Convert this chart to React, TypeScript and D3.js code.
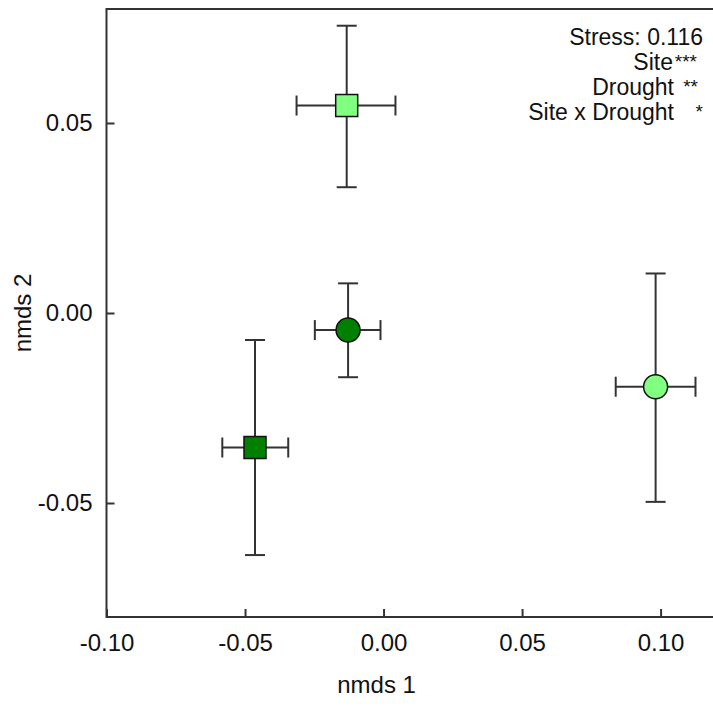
import React, { useRef, useEffect } from 'react';
import * as d3 from 'd3';

// group means and error-bar extents (nmds 1 / nmds 2)
const groups = ['dark square', 'dark circle', 'light square', 'light circle'];
const shapes = ['square', 'circle', 'square', 'circle'];
const fills = ['#008000', '#008000', '#80ff80', '#80ff80'];
const xMean = [-0.0464, -0.0128, -0.0133, 0.0982];
const xLow = [-0.0582, -0.0248, -0.0314, 0.0838];
const xHigh = [-0.0344, -0.0011, 0.0043, 0.1126];
const yMean = [-0.0354, -0.0045, 0.0546, -0.0194];
const yLow = [-0.0637, -0.0169, 0.0331, -0.0497];
const yHigh = [-0.0071, 0.0078, 0.0756, 0.0104];

const xTicks = [-0.1, -0.05, 0, 0.05, 0.1];
const yTicks = [-0.05, 0, 0.05];

// permanova terms and significance stars
const terms = ['Site', 'Drought', 'Site x Drought'];
const stars = ['***', '**', '*'];

const fmt = (d) => d3.format('.2f')(d).replace('\u2212', '-');

const App = () => {
  const ref = useRef<SVGSVGElement>(null);

  useEffect(() => {
    document.body.style.margin = '0';
    const root = d3.select(ref.current);
    root.selectAll('*').remove();

    const margin = { top: 9, right: -3, bottom: 89, left: 106.5 };
    const width = 713 - margin.left - margin.right;
    const height = 706 - margin.top - margin.bottom;
    const font = 'Liberation Sans, Arial, sans-serif';

    const svg = root
      .append('g')
      .attr('transform', `translate(${margin.left},${margin.top})`);

    const x = d3.scaleLinear().domain([-0.1, 0.12]).range([0, width]);
    const y = d3.scaleLinear().domain([-0.08, 0.08]).range([height, 0]);

    svg
      .append('rect')
      .attr('width', width)
      .attr('height', height)
      .attr('fill', 'none')
      .attr('stroke', '#333')
      .attr('stroke-width', 2);

    const xAxis = d3
      .axisBottom(x)
      .tickValues(xTicks)
      .tickFormat(fmt)
      .tickSizeInner(-8)
      .tickSizeOuter(0)
      .tickPadding(17);
    const gx = svg.append('g').attr('transform', `translate(0,${height})`).call(xAxis);

    const yAxis = d3
      .axisLeft(y)
      .tickValues(yTicks)
      .tickFormat(fmt)
      .tickSizeInner(-8)
      .tickSizeOuter(0)
      .tickPadding(14);
    const gy = svg.append('g').call(yAxis);

    [gx, gy].forEach((g) => {
      g.select('.domain').remove();
      g.selectAll('line').attr('stroke', '#333').attr('stroke-width', 2);
      g.selectAll('text')
        .attr('font-family', font)
        .attr('font-size', 24)
        .attr('fill', '#111');
    });

    svg
      .append('text')
      .attr('x', x(0) - 7)
      .attr('y', height + 76)
      .attr('text-anchor', 'middle')
      .attr('font-family', font)
      .attr('font-size', 24)
      .attr('fill', '#111')
      .text('nmds 1');

    svg
      .append('text')
      .attr('transform', `translate(${-76},${y(0)}) rotate(-90)`)
      .attr('text-anchor', 'middle')
      .attr('font-family', font)
      .attr('font-size', 24)
      .attr('fill', '#111')
      .text('nmds 2');

    const idx = d3.range(groups.length);
    const bar = svg.append('g').attr('stroke', '#333').attr('stroke-width', 2);
    const cap = 10;

    idx.forEach((i) => {
      const cx = x(xMean[i]);
      const cy = y(yMean[i]);
      bar.append('line').attr('x1', cx).attr('x2', cx).attr('y1', y(yLow[i])).attr('y2', y(yHigh[i]));
      bar.append('line').attr('x1', x(xLow[i])).attr('x2', x(xHigh[i])).attr('y1', cy).attr('y2', cy);
      [yLow[i], yHigh[i]].forEach((v) =>
        bar.append('line').attr('x1', cx - cap).attr('x2', cx + cap).attr('y1', y(v)).attr('y2', y(v))
      );
      [xLow[i], xHigh[i]].forEach((v) =>
        bar.append('line').attr('x1', x(v)).attr('x2', x(v)).attr('y1', cy - cap).attr('y2', cy + cap)
      );
    });

    idx.forEach((i) => {
      const cx = x(xMean[i]);
      const cy = y(yMean[i]);
      if (shapes[i] === 'square') {
        svg
          .append('rect')
          .attr('x', cx - 11)
          .attr('y', cy - 11)
          .attr('width', 22)
          .attr('height', 22)
          .attr('fill', fills[i])
          .attr('stroke', '#111')
          .attr('stroke-width', 1.5);
      } else {
        svg
          .append('circle')
          .attr('cx', cx)
          .attr('cy', cy)
          .attr('r', 12)
          .attr('fill', fills[i])
          .attr('stroke', '#111')
          .attr('stroke-width', 1.5);
      }
    });

    // stats annotation, top right
    const note = svg
      .append('g')
      .attr('font-family', font)
      .attr('font-size', 23)
      .attr('fill', '#111')
      .attr('text-anchor', 'end');
    const right = 703 - margin.left;
    note.append('text').attr('x', right).attr('y', 45 - margin.top).text('Stress: 0.116');
    const termEnd = [right - 30, right - 29, right - 29];
    const starEnd = [right - 6, right - 5, right];
    terms.forEach((t, i) => {
      const base = 70 + i * 25 - margin.top;
      note.append('text').attr('x', termEnd[i]).attr('y', base).text(t);
      note
        .append('text')
        .attr('x', starEnd[i])
        .attr('y', base - 2)
        .attr('font-size', 19)
        .text(stars[i]);
    });
  }, []);

  return <svg ref={ref} width={713} height={706} style={{ display: 'block' }}></svg>;
};

export default App;
